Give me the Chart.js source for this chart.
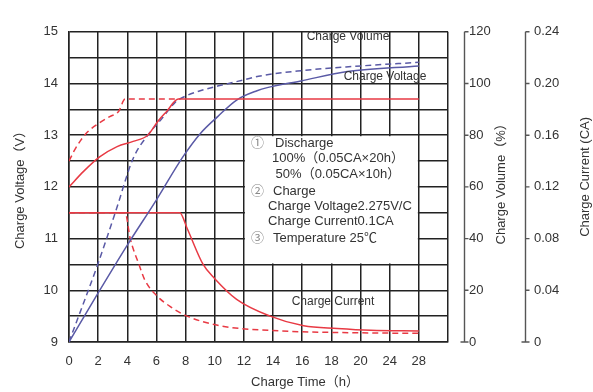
<!DOCTYPE html>
<html>
<head>
<meta charset="utf-8">
<script src="https://cdn.jsdelivr.net/npm/chart.js@4/dist/chart.umd.min.js"></script>
<style>
  html, body { margin: 0; padding: 0; background: #fff; }
  #wrap { width: 593px; height: 392px; position: relative; }
</style>
</head>
<body>
<div id="wrap"><canvas id="chart"></canvas></div>
<script>
// charge voltage (V), left axis
const timeVolt100 = [0, 1, 2.1, 3.3, 4.4, 5.4, 6.1, 6.7, 7.5, 24];
const volt100 = [12.0, 12.3, 12.58, 12.78, 12.88, 13.0, 13.27, 13.46, 13.7, 13.7];
const timeVolt50 = [0, 0.4, 0.8, 1.3, 2.1, 2.8, 3.4, 3.85, 7.6];
const volt50 = [12.5, 12.72, 12.9, 13.07, 13.24, 13.36, 13.46, 13.7, 13.7];

// charge volume (%), first right axis
const timeVol100 = [0, 2, 4, 6, 7.8, 9, 10.2, 11.5, 12.9, 13.6, 15.9, 19.1, 24];
const vol100 = [0, 19, 37.5, 55, 71.5, 80.6, 87.2, 93.6, 97.2, 98.4, 101, 104.6, 106.8];
const timeVol50 = [0, 2, 3.2, 4.4, 5.4, 6.4, 7.3, 8.1, 9, 10.2, 12, 13, 16, 19, 24];
const vol50 = [0, 30.5, 50.5, 71, 80, 86.6, 92.8, 95.4, 97.2, 99, 101.4, 102.8, 105, 106.4, 108.2];

// charge current (CA), second right axis
const timeCur100 = [0, 7.6, 8.1, 9.2, 10, 11.5, 13.8, 16.1, 18.4, 20.7, 24];
const cur100 = [0.1, 0.1, 0.088, 0.06, 0.049, 0.033, 0.02, 0.0125, 0.0104, 0.009, 0.0085];
const timeCur50 = [0, 3.85, 4.2, 4.8, 5.2, 6, 7, 8.1, 10.4, 13.8, 20.7, 24];
const cur50 = [0.1, 0.1, 0.08, 0.06, 0.048, 0.036, 0.027, 0.02, 0.0125, 0.009, 0.007, 0.0068];

// x grid runs 0..26, but the printed labels skip after 20
const xTickLabels = {0: '0', 2: '2', 4: '4', 6: '6', 8: '8', 10: '10', 12: '12', 14: '14', 16: '16', 18: '18', 20: '20', 22: '24', 24: '28'};

const noteLines = [
  ['①', 'Discharge'],
  ['', '100%（0.05CA×20h）'],
  ['', ' 50%（0.05CA×10h）'],
  ['②', 'Charge'],
  ['', 'Charge Voltage2.275V/C'],
  ['', 'Charge Current0.1CA'],
  ['③', 'Temperature 25℃']
];

const RED = '#e83a44';
const BLUE = '#5a5aa6';
const TEXT = '#333';
const GRID = '#222';
const FONT = '"Liberation Sans", Arial, "Noto Sans CJK SC", sans-serif';

function pts(xs, ys) {
  return xs.map((x, i) => ({x: x, y: ys[i]}));
}

function line(label, xs, ys, axis, color, dashed) {
  return {
    label: label,
    data: pts(xs, ys),
    yAxisID: axis,
    borderColor: color,
    borderWidth: 1.5,
    borderDash: dashed ? [6, 4] : [],
    pointRadius: 0,
    fill: false,
    cubicInterpolationMode: 'monotone'
  };
}

const extras = {
  id: 'extras',
  beforeDatasetsDraw(chart) {
    const ctx = chart.ctx;
    const x = chart.scales.x, y = chart.scales.y;
    // white note box over the grid
    const l = x.getPixelForValue(12), r = x.getPixelForValue(24);
    const t = y.getPixelForValue(13), b = y.getPixelForValue(10.5);
    ctx.save();
    ctx.fillStyle = '#fff';
    ctx.fillRect(l + 1, t + 1, r - l - 2, b - t - 2);
    ctx.textBaseline = 'middle';
    ctx.font = '13px ' + FONT;
    const rows = [143, 158, 174, 191, 206, 221, 238];
    const textX = [275, 272, 272, 273, 268, 268, 273];
    noteLines.forEach((row, i) => {
      if (row[0]) {
        ctx.fillStyle = '#888';
        ctx.fillText(row[0], 251, rows[i]);
      }
      ctx.fillStyle = TEXT;
      ctx.fillText(row[1], textX[i], rows[i]);
    });
    ctx.restore();
  },
  afterDraw(chart) {
    const ctx = chart.ctx;
    const area = chart.chartArea;
    ctx.save();
    // right axes lines and tick marks
    [['y1', 16], ['y2', 15]].forEach(([id, off]) => {
      const s = chart.scales[id];
      const ax = Math.round(s.left + off) + 0.5;
      ctx.strokeStyle = '#555';
      ctx.lineWidth = 1.4;
      ctx.beginPath();
      ctx.moveTo(ax, area.top);
      ctx.lineTo(ax, area.bottom);
      s.ticks.forEach(tk => {
        const py = s.getPixelForValue(tk.value);
        ctx.moveTo(tk.value === 0 ? ax - 4 : ax, py);
        ctx.lineTo(ax + 4, py);
      });
      ctx.stroke();
    });

    ctx.fillStyle = TEXT;
    ctx.font = '13px ' + FONT;
    ctx.textAlign = 'center';
    ctx.textBaseline = 'middle';
    const midY = (area.top + area.bottom) / 2;

    // axis titles
    ctx.fillText('Charge Time（h）', 305, 382);
    [['Charge Voltage（V）', 20, midY], ['Charge Volume（%）', 501, midY - 6], ['Charge Current (CA)', 585, midY - 10]].forEach(([txt, tx, ty]) => {
      ctx.save();
      ctx.translate(tx, ty);
      ctx.rotate(-Math.PI / 2);
      ctx.fillText(txt, 0, 0);
      ctx.restore();
    });

    // curve labels
    ctx.font = '12px ' + FONT;
    ctx.fillText('Charge Volume', 348, 37);
    ctx.fillText('Charge Voltage', 385, 77);
    ctx.fillText('Charge Current', 333, 302);
    ctx.restore();
  }
};

new Chart(document.getElementById('chart'), {
  type: 'line',
  data: {
    datasets: [
      line('Voltage 100%', timeVolt100, volt100, 'y', RED, false),
      line('Voltage 50%', timeVolt50, volt50, 'y', RED, true),
      line('Volume 100%', timeVol100, vol100, 'y1', BLUE, false),
      line('Volume 50%', timeVol50, vol50, 'y1', BLUE, true),
      line('Current 100%', timeCur100, cur100, 'y2', RED, false),
      line('Current 50%', timeCur50, cur50, 'y2', RED, true)
    ]
  },
  options: {
    responsive: true,
    maintainAspectRatio: false,
    animation: false,
    layout: {padding: {top: 16, left: 0, right: 0, bottom: 0}},
    plugins: {legend: {display: false}, tooltip: {enabled: false}},
    scales: {
      x: {
        type: 'linear',
        min: 0,
        max: 26,
        ticks: {
          stepSize: 2,
          padding: 12,
          color: TEXT,
          font: {family: FONT, size: 13},
          maxRotation: 0,
          autoSkip: false,
          callback: v => xTickLabels[v] !== undefined ? xTickLabels[v] : ''
        },
        grid: {color: GRID, lineWidth: 1.5, drawTicks: false},
        border: {color: GRID, width: 1.5},
        afterFit: s => { s.height = 50; }
      },
      y: {
        min: 9,
        max: 15,
        ticks: {
          stepSize: 0.5,
          padding: 11,
          color: TEXT,
          font: {family: FONT, size: 13},
          autoSkip: false,
          callback: v => Number.isInteger(v) ? String(v) : ''
        },
        grid: {color: GRID, lineWidth: 1.5, drawTicks: false},
        border: {color: GRID, width: 1.5},
        afterFit: s => { s.width = 69; }
      },
      y1: {
        position: 'right',
        min: 0,
        max: 120,
        ticks: {stepSize: 20, padding: 21, color: TEXT, font: {family: FONT, size: 13}},
        grid: {display: false, drawTicks: false},
        border: {display: false},
        afterFit: s => { s.width = 62; }
      },
      y2: {
        position: 'right',
        min: 0,
        max: 0.24,
        ticks: {
          stepSize: 0.04,
          padding: 24,
          color: TEXT,
          font: {family: FONT, size: 13},
          callback: v => v === 0 ? '0' : v.toFixed(2)
        },
        grid: {display: false, drawTicks: false},
        border: {display: false},
        afterFit: s => { s.width = 83; }
      }
    }
  },
  plugins: [extras]
});
</script>
</body>
</html>
